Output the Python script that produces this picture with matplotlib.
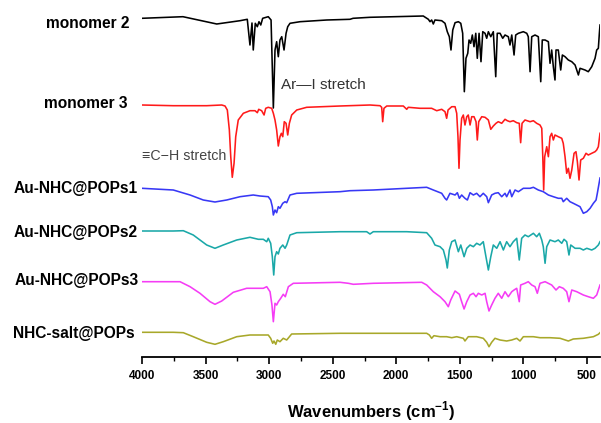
import matplotlib
matplotlib.use("Agg")
import matplotlib.pyplot as plt

plt.rcParams['font.family'] = ['Liberation Sans', 'DejaVu Sans']
plt.rcParams['mathtext.fontset'] = 'custom'
plt.rcParams['mathtext.rm'] = 'Liberation Sans'
plt.rcParams['mathtext.bf'] = 'Liberation Sans:bold'

# stacked FTIR spectra, offset transmittance (a.u.)
m2_wn = [4000, 3678, 3412, 3229, 3172, 3151, 3135, 3125, 3109, 3093, 3080, 3066, 3051, 3007,
         2985, 2967, 2954, 2941, 2928, 2915, 2901, 2883, 2867, 2854, 2836, 2757, 2547, 2364,
         2340, 2207, 1788, 1748, 1735, 1722, 1709, 1696, 1643, 1617, 1599, 1583, 1570, 1556,
         1538, 1512, 1493, 1478, 1465, 1452, 1438, 1428, 1415, 1402, 1389, 1375, 1363, 1349,
         1334, 1320, 1302, 1289, 1276, 1257, 1237, 1218, 1206, 1184, 1163, 1145, 1119, 1106,
         1092, 1074, 1061, 1040, 1001, 974, 962, 948, 935, 909, 883, 864, 852, 830, 804, 791,
         778, 765, 752, 744, 726, 707, 694, 673, 647, 620, 594, 568, 555, 516, 490, 463, 437,
         424, 411, 403, 398]
m2_t = [404.7, 406.3, 399, 402.3, 403.7, 378, 400, 373, 399.7, 396.3, 401.3, 398, 404.7, 406.3,
        403, 315, 373, 381.3, 366.3, 383, 386.3, 373, 389.7, 396.3, 399.7, 401.3, 403, 403.7,
        404.7, 405.7, 407, 403.7, 401.3, 403, 399, 403, 402.3, 399.7, 391.3, 386.3, 373, 393,
        400.3, 401.3, 399.7, 389.7, 331.3, 364.7, 369.7, 383, 379.7, 388, 376.3, 389.7, 364.7, 389.7,
        361.3, 391.3, 389.7, 384.7, 391.3, 386.3, 391.3, 346.3, 389.7, 389.7, 384.7, 388, 386.3, 378,
        388, 368, 388, 389.7, 391.3, 389.7, 386.3, 351.3, 386.3, 388, 386.3, 341.3, 383, 383, 381.3, 359.7,
        373, 356.3, 343, 373, 373, 353, 368, 366.3, 363, 361.3, 358, 348, 354.7, 353, 351.3, 356.3, 364.7,
        373, 374.7, 389.7, 398]

m3_wn = [4000, 3754, 3491, 3373, 3347, 3329, 3313, 3302, 3290, 3276, 3263, 3243, 3203, 3151,
         3111, 3093, 3082, 3059, 3040, 3027, 3007, 2980, 2967, 2954, 2941, 2928, 2915, 2904,
         2893, 2881, 2867, 2854, 2841, 2823, 2783, 2705, 2443, 2207, 2128, 2115, 2107, 2097,
         2075, 1945, 1918, 1906, 1814, 1722, 1682, 1643, 1617, 1604, 1593, 1564, 1538, 1525,
         1515, 1507, 1499, 1486, 1473, 1460, 1446, 1434, 1420, 1407, 1389, 1373, 1363, 1352,
         1328, 1302, 1276, 1257, 1237, 1216, 1198, 1171, 1145, 1127, 1106, 1080, 1053, 1033,
         1022, 1011, 988, 948, 922, 896, 870, 856, 848, 841, 833, 817, 804, 791, 778, 765, 752,
         726, 699, 687, 673, 660, 647, 634, 620, 602, 587, 576, 563, 550, 529, 508, 490, 463,
         437, 424, 411, 398]
m3_t = [318, 317.3, 317.3, 318, 317, 313, 293, 266.3, 245.7, 259.7, 286.3, 303, 309.7, 312.3,
        312.3, 310.3, 313.7, 312.3, 308, 314.7, 315.7, 314.7, 309.7, 303, 293, 277, 286.3, 289.7,
        286.3, 301.3, 299.7, 288, 299.7, 308, 313, 315.7, 317, 318, 317.3, 315.7, 301.3, 314.7,
        317, 317, 313.7, 315.7, 314.7, 314.7, 312.3, 313.7, 311.3, 304.7, 313, 316.3, 316.3, 309.7,
        286.3, 254.7, 283, 304.7, 308, 298, 306.3, 308, 298, 306.3, 306.3, 301.3, 283, 301.3,
        306.3, 305.7, 303, 293.7, 297, 299.7, 301.3, 299.7, 303.7, 302.3, 301.3, 302.3, 300.3, 299.7,
        280.3, 299.7, 303, 301.3, 302.3, 299.7, 298, 294.7, 266.3, 233, 266.3, 276.3, 266.3, 286.3, 289.7, 283, 288,
        286.3, 284.7, 279.7, 266.3, 249.7, 254.7, 244.7, 253, 269.7, 271.3, 261.3, 243, 263, 264.7, 269.7, 268, 269.7,
        271.3, 273, 276.3, 289.7]

p1_wn = [4000, 3754, 3622, 3518, 3426, 3334, 3229, 3125, 3072, 3007, 2988, 2975, 2967, 2954,
         2941, 2928, 2915, 2893, 2875, 2862, 2836, 2783, 2443, 2364, 2181, 1918, 1761, 1709,
         1643, 1617, 1604, 1578, 1538, 1520, 1504, 1486, 1460, 1441, 1420, 1394, 1368, 1342,
         1316, 1289, 1276, 1250, 1224, 1198, 1171, 1145, 1132, 1106, 1092, 1066, 1040, 1001,
         948, 922, 883, 844, 804, 765, 726, 699, 687, 660, 634, 608, 555, 529, 502, 476, 450,
         429, 419, 403, 398]
p1_t = [234.7, 233, 228, 223, 221, 223, 226.3, 228, 227, 226.3, 223, 216.3, 208, 213,
        210.3, 216.3, 214.7, 219.7, 221.3, 220.3, 228, 229.7, 231.3, 232.3, 233, 234.7, 235.7, 233,
        229.7, 224.7, 223, 229.7, 228, 230.3, 224.7, 228, 224.7, 223, 230.3, 228, 229.7, 226.3,
        229.7, 226.3, 220.3, 228, 229.7, 230.3, 226.3, 229.7, 226.3, 233, 226.3, 233, 231.3, 234.7,
        234.7, 235.7, 233, 231.3, 228, 226.3, 224.7, 224.7, 221.3, 224.7, 221.3, 219.7, 216.3, 209.7, 211.3, 214.7, 219.7,
        223, 229.7, 241.3, 245]

p2_wn = [4000, 3754, 3675, 3597, 3491, 3426, 3361, 3255, 3151, 3085, 3046, 3019, 3007, 2988,
         2975, 2964, 2954, 2941, 2928, 2915, 2893, 2875, 2862, 2836, 2783, 2443, 2233, 2207,
         2181, 1918, 1761, 1722, 1696, 1656, 1630, 1609, 1599, 1583, 1564, 1538, 1512, 1493,
         1467, 1446, 1420, 1394, 1368, 1342, 1316, 1295, 1276, 1257, 1237, 1210, 1184, 1158,
         1132, 1106, 1080, 1053, 1033, 1014, 988, 962, 922, 896, 875, 856, 844, 830, 817, 791,
         752, 726, 699, 681, 660, 642, 628, 594, 555, 529, 502, 463, 437, 411, 398]
p2_t = [192, 192, 192.3, 188, 178, 174.7, 178, 183, 185.7, 183.7, 183.7, 181.3, 184.7, 179.7,
        166.3, 148, 166.3, 171.3, 169, 174.7, 178, 174.7, 178, 188, 190.3, 191.3, 191.3, 189,
        191.3, 191.3, 190.3, 184.7, 178, 176.3, 173, 163, 155, 173, 181.3, 183, 171.3, 178,
        166.3, 174.7, 178, 176.3, 179.7, 178, 181.3, 166.3, 153, 166.3, 178, 174.7, 181.3, 173,
        181.3, 176.3, 181.3, 184.7, 163, 184.7, 188, 186.3, 189.7, 186.3, 189.7, 183, 176.3, 159.7, 176.3, 183,
        181.3, 183, 179.7, 183.7, 181.3, 168, 178, 174.7, 174.7, 173, 174.7, 173, 174.7, 178, 181.3]

p3_wn = [4000, 3701, 3622, 3544, 3465, 3426, 3373, 3282, 3177, 3098, 3046, 3019, 2993, 2978,
         2967, 2954, 2941, 2928, 2909, 2889, 2873, 2849, 2810, 2443, 2377, 2338, 2181, 1800,
         1761, 1709, 1656, 1617, 1591, 1572, 1538, 1504, 1486, 1467, 1446, 1420, 1394, 1373,
         1355, 1328, 1302, 1289, 1271, 1250, 1224, 1198, 1171, 1145, 1119, 1092, 1074, 1053,
         1033, 1022, 988, 962, 935, 909, 891, 870, 830, 778, 744, 718, 687, 660, 642, 620, 581,
         529, 490, 450, 424, 398]
p3_t = [141.3, 141.3, 136.3, 129.7, 121.3, 118.7, 122, 130.7, 134.7, 134.7, 134.7, 136.3, 131.3, 118,
        101.3, 119.7, 118, 121.3, 124.7, 128.7, 126.3, 136.3, 139.7, 140.7, 139.7, 138.7, 139.7, 140.7,
        138, 131.3, 126.3, 121.3, 116.3, 123, 132, 128.7, 121.3, 114, 121.3, 128, 129.7, 126.3,
        129.7, 128, 129.7, 121.3, 112, 118, 124.7, 129.7, 124.7, 131.3, 126.3, 131.3, 133, 134.7,
        121.3, 138, 139.7, 141.3, 138, 136.3, 129.7, 139.7, 141.3, 138, 133, 136.3, 134.7, 131.3, 121.3, 133, 131.3,
        128, 126.3, 124.7, 128, 138]

salt_wn = [4000, 3754, 3675, 3597, 3491, 3426, 3361, 3255, 3151, 3007, 2988, 2972, 2962, 2948,
           2936, 2915, 2889, 2862, 2823, 2443, 2181, 1761, 1740, 1722, 1704, 1656, 1604, 1564,
           1525, 1473, 1460, 1434, 1368, 1316, 1289, 1271, 1250, 1224, 1184, 1132, 1092, 1053,
           1027, 1001, 922, 870, 791, 712, 647, 608, 529, 450, 411, 398]
salt_t = [90.7, 90.7, 90.3, 86.3, 80.7, 78.7, 81.3, 86.3, 88, 88, 84.7, 79.7, 82, 78.7,
          83, 81.3, 84.7, 83, 89, 89.7, 89.7, 89.7, 88, 84.7, 87.3, 86.3, 86.3, 85.3,
          86.3, 84.7, 82, 86.3, 86.3, 84.7, 80.7, 76.3, 80.7, 84.7, 83, 82, 83, 84.7,
          82, 86.3, 86.3, 85.3, 85.3, 84.7, 82, 84, 84.7, 86.3, 88.7, 90.3]

names = ["monomer 2", "monomer 3", "Au-NHC@POPs1", "Au-NHC@POPs2", "Au-NHC@POPs3", "NHC-salt@POPs"]
series = [(m2_wn, m2_t), (m3_wn, m3_t), (p1_wn, p1_t), (p2_wn, p2_t), (p3_wn, p3_t), (salt_wn, salt_t)]
colors = ["black", "#ff1a1a", "#3838f5", "#1aa8a8", "#f53cf5", "#a8a82a"]
# label anchors (right edge x, centre y) in figure pixels
label_pos = [(130, 23), (128, 103), (138, 188), (138, 232), (139, 280), (135, 333)]

W, H = 601, 423
fig = plt.figure(figsize=(W / 100, H / 100), dpi=100)
ax = fig.add_axes([142 / W, (H - 357) / H, (600 - 142) / W, 357 / H])

for (wn, t), c in zip(series, colors):
    ax.plot(wn, t, color=c, lw=1.15, solid_joinstyle="round")

ax.set_xlim(4000, 398)
ax.set_ylim(66, 423)
ax.set_xticks([4000, 3500, 3000, 2500, 2000, 1500, 1000, 500])
ax.set_xticks(range(3750, 400, -500), minor=True)
for s in ["top", "right", "left"]:
    ax.spines[s].set_visible(False)
ax.spines["bottom"].set_linewidth(1.3)
ax.set_yticks([])
ax.tick_params(axis="x", which="major", length=5, width=1.2, labelsize=8.5, pad=4.5)
ax.tick_params(axis="x", which="minor", length=3, width=1.0)
for lab in ax.get_xticklabels():
    lab.set_fontweight("bold")
fig.text(371 / W, 1 - 411 / H, r"Wavenumbers (cm$^{\mathbf{-1}}$)", ha="center", va="center",
         fontsize=12, fontweight="bold")

for name, (x, y) in zip(names, label_pos):
    fig.text(x / W, 1 - y / H, name, ha="right", va="center", fontsize=11.2, fontweight="bold")

ax.text(2905, 338, "Ar\u2014I stretch", fontsize=11, color="#333333", ha="left", va="center")
ax.text(4000, 267, "\u2261C\u2212H stretch", fontsize=10.3, color="#444444", ha="left", va="center")

fig.savefig("out.png", dpi=100)
